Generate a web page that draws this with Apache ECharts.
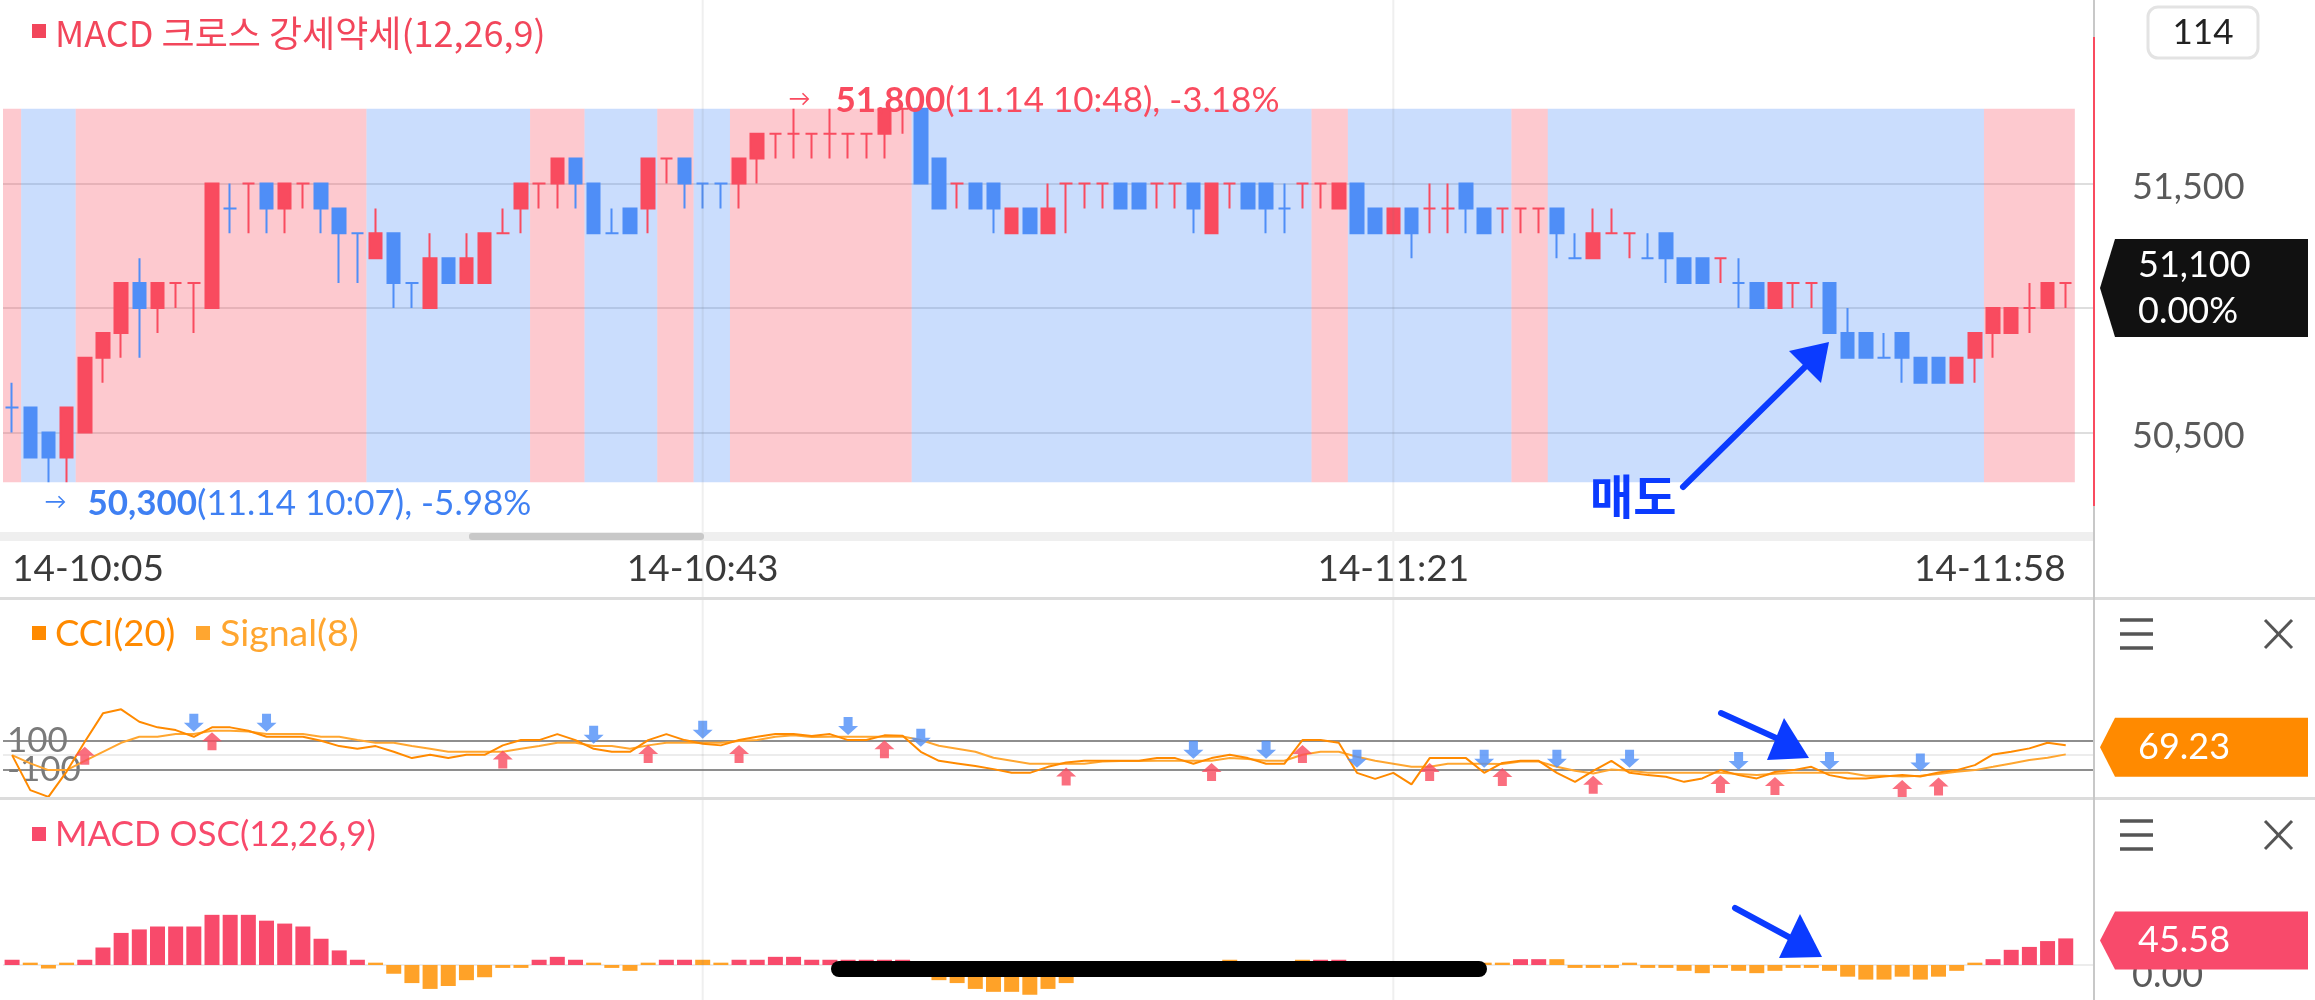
<!DOCTYPE html>
<html><head><meta charset="utf-8">
<script src="https://cdn.jsdelivr.net/npm/echarts@6/dist/echarts.min.js"></script>
<style>html,body{margin:0;padding:0;background:#fff;overflow:hidden}#c{width:2315px;height:1000px}</style>
</head><body><div id="c"></div>
<script>
// ---------------- DATA ----------------
const times = ['10:05','10:06','10:07','10:08','10:09','10:10','10:11','10:12','10:13','10:14','10:15','10:16','10:17','10:18','10:19','10:20','10:21','10:22','10:23','10:24','10:25','10:26','10:27','10:28','10:29','10:30','10:31','10:32','10:33','10:34','10:35','10:36','10:37','10:38','10:39','10:40','10:41','10:42','10:43','10:44','10:45','10:46','10:47','10:48','10:49','10:50','10:51','10:52','10:53','10:54','10:55','10:56','10:57','10:58','10:59','11:00','11:01','11:02','11:03','11:04','11:05','11:06','11:07','11:08','11:09','11:10','11:11','11:12','11:13','11:14','11:15','11:16','11:17','11:18','11:19','11:20','11:21','11:22','11:23','11:24','11:25','11:26','11:27','11:28','11:29','11:30','11:31','11:32','11:33','11:34','11:35','11:36','11:37','11:38','11:39','11:40','11:41','11:42','11:43','11:44','11:45','11:46','11:47','11:48','11:49','11:50','11:51','11:52','11:53','11:54','11:55','11:56','11:57','11:58'];
const opens = [50600,50600,50500,50400,50500,50800,50900,51100,51000,51100,
  51100,51000,51400,51500,51500,51400,51500,51500,51400,51300,
  51200,51300,51100,51000,51200,51100,51100,51300,51400,51500,
  51500,51600,51500,51300,51400,51400,51600,51600,51500,51500,
  51500,51600,51700,51700,51700,51700,51700,51700,51700,51800,
  51800,51600,51500,51500,51500,51300,51400,51300,51500,51500,
  51500,51500,51500,51500,51500,51500,51300,51500,51500,51500,
  51400,51500,51500,51400,51500,51400,51300,51400,51400,51400,
  51500,51400,51400,51400,51400,51400,51200,51200,51300,51300,
  51200,51300,51200,51200,51200,51100,51100,51000,51100,51100,
  51100,50900,50900,50800,50900,50800,50800,50700,50800,50900,
  50900,51000,51000,51100];
const closes = [50600,50400,50400,50600,50800,50900,51100,51000,51100,51100,
  51100,51500,51400,51500,51400,51500,51500,51400,51300,51300,
  51300,51100,51100,51200,51100,51200,51300,51300,51500,51500,
  51600,51500,51300,51300,51300,51600,51600,51500,51500,51500,
  51600,51700,51700,51700,51700,51700,51700,51700,51800,51800,
  51500,51400,51500,51400,51400,51400,51300,51400,51500,51500,
  51500,51400,51400,51500,51500,51400,51500,51500,51400,51400,
  51400,51500,51500,51500,51300,51300,51400,51300,51400,51400,
  51400,51300,51400,51400,51400,51300,51200,51300,51300,51300,
  51200,51200,51100,51100,51200,51100,51000,51100,51100,51100,
  50900,50800,50800,50800,50800,50700,50700,50800,50900,51000,
  51000,51000,51100,51100];
const lows = [50500,50400,50300,50300,50500,50700,50800,50800,50900,51000,
  50900,51000,51300,51300,51300,51300,51400,51300,51100,51100,
  51200,51000,51000,51000,51100,51100,51100,51300,51300,51400,
  51400,51400,51300,51300,51300,51300,51500,51400,51400,51400,
  51400,51500,51600,51600,51600,51600,51600,51600,51600,51700,
  51500,51400,51400,51400,51300,51300,51300,51300,51300,51400,
  51400,51400,51400,51400,51400,51300,51300,51400,51400,51300,
  51300,51400,51400,51400,51300,51300,51300,51200,51300,51300,
  51300,51300,51300,51300,51300,51200,51200,51200,51300,51200,
  51200,51100,51100,51100,51100,51000,51000,51000,51000,51000,
  50900,50800,50800,50800,50700,50700,50700,50700,50700,50800,
  50900,50900,51000,51000];
const highs = [50700,50600,50500,50600,50800,50900,51100,51200,51100,51100,
  51100,51500,51500,51500,51500,51500,51500,51500,51400,51300,
  51400,51300,51100,51300,51200,51300,51300,51400,51500,51500,
  51600,51600,51500,51400,51400,51600,51600,51600,51500,51500,
  51600,51700,51700,51800,51700,51800,51700,51700,51800,51800,
  51800,51600,51500,51500,51500,51400,51400,51500,51500,51500,
  51500,51500,51500,51500,51500,51500,51500,51500,51500,51500,
  51500,51500,51500,51500,51500,51400,51400,51400,51500,51500,
  51500,51400,51400,51400,51400,51400,51300,51400,51400,51300,
  51300,51300,51200,51200,51200,51200,51100,51100,51100,51100,
  51100,51000,50900,50900,50900,50800,50800,50800,50900,51000,
  51000,51100,51100,51100];
// MACD cross regime per candle: 1 = strong (pink), -1 = weak (blue)
const regime = [1,-1,-1,-1,1,1,1,1,1,1,
  1,1,1,1,1,1,1,1,1,1,
  -1,-1,-1,-1,-1,-1,-1,-1,-1,1,
  1,1,-1,-1,-1,-1,1,1,-1,-1,
  1,1,1,1,1,1,1,1,1,1,
  -1,-1,-1,-1,-1,-1,-1,-1,-1,-1,
  -1,-1,-1,-1,-1,-1,-1,-1,-1,-1,
  -1,-1,1,1,-1,-1,-1,-1,-1,-1,
  -1,-1,-1,1,1,-1,-1,-1,-1,-1,
  -1,-1,-1,-1,-1,-1,-1,-1,-1,-1,
  -1,-1,-1,-1,-1,-1,-1,-1,-1,1,
  1,1,1,1];
const macdOsc = [9,4,-6,4,9,30,55,61,66,66,
  66,86,86,86,76,71,66,45,25,9,
  4,-15,-31,-41,-36,-26,-21,-5,-5,9,
  14,9,4,-5,-10,4,9,9,9,4,
  9,9,14,14,9,9,9,9,9,9,
  -12,-26,-31,-41,-46,-46,-51,-41,-31,-18,
  -12,-8,-6,-4,-3,-3,2,9,3,-2,
  2,9,9,9,-4,-5,-3,-4,2,2,
  2,4,4,10,10,10,-5,-5,-5,4,
  -5,-5,-10,-14,-5,-10,-14,-10,-5,-5,
  -10,-20,-25,-25,-20,-25,-20,-10,4,10,
  26,31,41,45.58];
const cci = [0,-245,-292,-115,93,292,320,233,194,175,
  128,194,194,170,128,128,128,100,63,44,
  63,23,-21,2,-21,2,2,68,105,105,
  147,105,44,23,23,105,147,105,80,68,
  105,128,147,147,133,147,105,105,138,135,
  23,-40,-58,-77,-98,-124,-124,-82,-52,-40,
  -40,-40,-40,-21,-21,-61,-21,2,-21,-61,
  -61,105,105,86,-124,-166,-124,-205,-21,-21,
  -21,-124,-55,-40,-40,-124,-187,-110,-40,-124,
  -140,-152,-187,-163,-105,-140,-163,-118,-105,-82,
  -140,-163,-163,-150,-140,-150,-122,-105,-70,5,
  23,47,86,69.23];
const cciSignal = [0,-58,-105,-105,-40,23,86,128,128,147,
  147,170,170,165,147,147,147,128,128,105,
  86,86,63,44,23,23,23,23,44,63,
  86,86,63,63,44,68,86,86,86,86,
  98,105,128,138,126,128,128,128,128,130,
  105,65,44,23,-19,-40,-61,-61,-61,-61,
  -45,-42,-42,-40,-40,-40,-40,-21,-28,-40,
  -40,2,23,23,-12,-40,-61,-82,-82,-61,
  -61,-61,-63,-45,-45,-82,-110,-128,-100,-110,
  -124,-124,-124,-124,-124,-132,-140,-130,-124,-124,
  -124,-124,-145,-145,-150,-145,-132,-117,-105,-82,
  -58,-35,-19,5];
const buyIdx = [4,11,27,35,40,48,58,66,71,78,82,87,94,97,104,106];
const sellIdx = [10,14,32,38,46,50,65,69,74,81,85,89,95,100,105];
const priceTicks = [50500,51000,51500];
const xLabelTimes = ['10:05','10:43','11:21','11:58'];
const gridTimes = ['10:43','11:21'];
const dayNum = '14', dateText = '11.14';
const refClose = 53500;         // reference close for the % figures
const lastChangeText = '0.00%';

// ---------------- STYLE ----------------
const FONT = 'Lato, "Noto Sans CJK KR", sans-serif';
const KFONT = '"Noto Sans CJK KR", Lato, sans-serif';
const RED = '#F94B5F', BLUE = '#4F8EF7';
const PINKBAND = 'rgba(248,75,95,0.30)', BLUEBAND = 'rgba(79,142,247,0.30)';
const MRED = '#F84A6B', MORANGE = '#FFA228';
const CCICOL = '#FF8A00', SIGCOL = '#FFA630';
const T = 'rgba(0,0,0,0)';
const L = 3, R = 222;

let dir = -1;
const candleData = opens.map((o, i) => {
  const c = closes[i];
  if (c > o) dir = 1; else if (c < o) dir = -1;
  else if (i > 0 && c !== closes[i - 1]) dir = c > closes[i - 1] ? 1 : -1;
  const col = dir > 0 ? RED : BLUE;
  return { value: [o, c, lows[i], highs[i]], itemStyle: { color: col, color0: col, borderColor: col, borderColor0: col } };
});
const runs = [];
regime.forEach((r, i) => {
  if (runs.length && runs[runs.length - 1][2] === r) runs[runs.length - 1][1] = i;
  else runs.push([i, i, r]);
});
const hiMax = Math.max(...highs), iMax = highs.indexOf(hiMax);
const loMin = Math.min(...lows), iMin = lows.indexOf(loMin);
const cats = times.concat(['']);

const chart = echarts.init(document.getElementById('c'), null, { renderer: 'canvas', width: 2315, height: 1000 });
const xa = g => ({
  type: 'category', gridIndex: g, data: cats, boundaryGap: true,
  axisLine: { show: false }, axisTick: { show: false }, splitLine: { show: false },
  axisLabel: g === 0 ? {
    show: true, interval: (i, v) => xLabelTimes.includes(v), formatter: v => dayNum + '-' + v,
    color: '#3a3a3a', fontSize: 37, fontFamily: FONT, margin: 12, verticalAlign: 'middle',
    alignMinLabel: 'left', alignMaxLabel: 'right'
  } : { show: false }
});
const shifted = (txt, dy) => '{a|' + txt + '}';
const option = {
  animation: false, backgroundColor: '#fff',
  grid: [
    { left: L, right: R, top: 59, height: 498 },
    { left: L, right: R, top: 655, height: 143 },
    { left: L, right: R, top: 860, height: 140 }
  ],
  xAxis: [xa(0), xa(1), xa(2)],
  yAxis: [
    { gridIndex: 0, type: 'value', position: 'right', min: 50000, max: 52000, interval: 500,
      axisLine: { show: false }, axisTick: { show: false },
      axisLabel: { formatter: v => priceTicks.includes(v) ? '{a|' + v.toLocaleString('en-US') + '}' : '', margin: 39, align: 'left',
        rich: { a: { color: '#5a5a5a', fontSize: 36, fontFamily: FONT, lineHeight: 40, padding: [8, 0, 0, 0] } } },
      splitLine: { lineStyle: { color: [T, '#dedede', '#dedede', '#dedede', T], width: 2 } } },
    { gridIndex: 1, type: 'value', position: 'left', min: -300, max: 700, interval: 100,
      axisLine: { show: false }, axisTick: { show: false },
      axisLabel: { inside: true, formatter: v => (v === 100 || v === -100) ? String(v) : '', color: '#7a7a7a', fontSize: 35, fontFamily: FONT, margin: 4, align: 'left' },
      splitLine: { lineStyle: { color: [T, T, '#8e8e8e', '#ececec', '#8e8e8e', T, T, T, T, T, T], width: 2 } } },
    { gridIndex: 2, type: 'value', position: 'right', min: -60, max: 180, interval: 60,
      axisLine: { show: false }, axisTick: { show: false },
      axisLabel: { formatter: v => v === 0 ? '{a|0.00}' : '', margin: 39, align: 'left',
        rich: { a: { color: '#5a5a5a', fontSize: 36, fontFamily: FONT, lineHeight: 40, padding: [20, 0, 0, 0] } } },
      splitLine: { lineStyle: { color: [T, '#ececec', T, T, T], width: 2 } } }
  ],
  series: [
    { type: 'custom', xAxisIndex: 0, yAxisIndex: 0, z: 1, silent: true, encode: { x: 0, y: 2 },
      renderItem: (params, api) => {
        const s = api.value(0), e = api.value(1), r = api.value(2);
        const p0 = api.coord([s, hiMax]), p1 = api.coord([e, loMin]);
        const w = api.size([1, 0])[0];
        return { type: 'rect', shape: { x: p0[0] - w / 2, y: p0[1], width: p1[0] - p0[0] + w, height: p1[1] - p0[1] },
          style: { fill: r > 0 ? PINKBAND : BLUEBAND } };
      }, data: runs },
    { type: 'candlestick', xAxisIndex: 0, yAxisIndex: 0, z: 3, barWidth: 13, itemStyle: { borderWidth: 2 }, data: candleData },
    { type: 'bar', xAxisIndex: 2, yAxisIndex: 2, barWidth: 15,
      data: macdOsc.map((v, i) => ({ value: v, itemStyle: { color: regime[i] > 0 ? MRED : MORANGE } })) },
    { type: 'line', xAxisIndex: 1, yAxisIndex: 1, data: cciSignal, symbol: 'none', lineStyle: { color: SIGCOL, width: 2 } },
    { type: 'line', xAxisIndex: 1, yAxisIndex: 1, data: cci, symbol: 'none', lineStyle: { color: CCICOL, width: 2 } },
    { type: 'scatter', xAxisIndex: 1, yAxisIndex: 1, z: 5, data: buyIdx.map(i => [i, cci[i]]),
      symbol: 'path://M10,0 L20,9 L14.5,9 L14.5,18 L5.5,18 L5.5,9 L0,9 Z', symbolSize: [20, 18], symbolOffset: [0, 14], itemStyle: { color: RED } },
    { type: 'scatter', xAxisIndex: 1, yAxisIndex: 1, z: 5, data: sellIdx.map(i => [i, cci[i]]),
      symbol: 'path://M5.5,0 L14.5,0 L14.5,9 L20,9 L10,18 L0,9 L5.5,9 Z', symbolSize: [20, 18], symbolOffset: [0, -14], itemStyle: { color: BLUE } }
  ]
};
chart.setOption(option);

const P = (g, x, y) => chart.convertToPixel({ gridIndex: g }, [x, y]);
const G = [];
const rect = (x, y, w, h, fill, z, r) => G.push({ type: 'rect', z: z || 50, shape: { x, y, width: w, height: h, r: r || 0 }, style: { fill } });
const text = (x, y, t, o) => G.push({ type: 'text', z: (o && o.z) || 60, x, y, style: Object.assign({ text: t, fontSize: 35, fontFamily: FONT, fill: '#333', textAlign: 'left', textVerticalAlign: 'middle' }, o || {}) });

// vertical grid lines through all panels
gridTimes.forEach(t => {
  const x = P(0, times.indexOf(t), 51000)[0];
  rect(x - 1, 0, 2, 1000, 'rgba(120,120,120,0.12)', 40);
});
// separators
rect(0, 597, 2315, 3, '#dcdcdc', 45);
rect(0, 797, 2315, 3, '#dcdcdc', 45);
rect(2093, 0, 2, 1000, '#c8c8c8', 45);
rect(2093, 37, 2, 469, RED, 46);
// scroll bar
rect(0, 532, 2093, 9, '#efefef', 45);
rect(469, 533, 235, 7, '#c8c8c8', 46, 3);

// titles
rect(32, 24, 14, 14, '#F2465B');
text(55, 33, 'MACD 크로스 강세약세(12,26,9)', { fill: '#F2465B', fontSize: 36, fontFamily: KFONT });
rect(32, 626, 14, 14, CCICOL);
text(55, 634, 'CCI(20)', { fill: CCICOL, fontSize: 36.5 });
rect(196, 626, 14, 14, SIGCOL);
text(220, 634, 'Signal(8)', { fill: SIGCOL, fontSize: 37.5 });
rect(32, 827, 14, 14, MRED);
text(55, 835, 'MACD OSC(12,26,9)', { fill: MRED });

// count box
G.push({ type: 'rect', z: 50, shape: { x: 2148, y: 7, width: 110, height: 51, r: 10 }, style: { fill: '#fff', stroke: '#e3e3e3', lineWidth: 3 } });
text(2203, 33, String(times.length), { textAlign: 'center', fill: '#222' });

// menu icons
[634, 835].forEach(cy => {
  [-14, 0, 14].forEach(d => rect(2120, cy + d - 1.75, 33, 3.5, '#555'));
  G.push({ type: 'line', z: 50, shape: { x1: 2265, y1: cy - 14, x2: 2292, y2: cy + 14 }, style: { stroke: '#555', lineWidth: 3 } });
  G.push({ type: 'line', z: 50, shape: { x1: 2292, y1: cy - 14, x2: 2265, y2: cy + 14 }, style: { stroke: '#555', lineWidth: 3 } });
});

// value boxes
const vbox = (yc, h, fill) => G.push({ type: 'polygon', z: 70, shape: { points: [[2100, yc], [2115, yc - h / 2], [2308, yc - h / 2], [2308, yc + h / 2], [2115, yc + h / 2]] }, style: { fill } });
const lastClose = closes[closes.length - 1];
const ycP = P(0, 0, lastClose)[1] + 5;
vbox(ycP, 98, '#111');
text(2138, ycP - 23, lastClose.toLocaleString('en-US'), { fill: '#fff', z: 71, fontSize: 36 });
text(2138, ycP + 23, lastChangeText, { fill: '#fff', z: 71, fontSize: 36 });
const lastCci = cci[cci.length - 1];
const ycC = P(1, 0, lastCci)[1] + 2;
vbox(ycC, 59, CCICOL);
text(2138, ycC, lastCci.toFixed(2), { fill: '#fff', z: 71, fontSize: 36 });
const lastOsc = macdOsc[macdOsc.length - 1];
const ycM = P(2, 0, lastOsc)[1] + 2;
vbox(ycM, 58, MRED);
text(2138, ycM, lastOsc.toFixed(2), { fill: '#fff', z: 71, fontSize: 36 });

// max / min labels
const pct = v => ((v / refClose - 1) * 100).toFixed(2) + '%';
const pMax = P(0, iMax, hiMax), pMin = P(0, iMin, loMin);
text(pMax[0] - 5, pMax[1] - 10, '→', { fill: RED, fontSize: 22 });
text(pMax[0] + 42, pMax[1] - 8, '{b|' + hiMax.toLocaleString('en-US') + '}{n|(' + dateText + ' ' + times[iMax] + '), ' + pct(hiMax) + '}',
  { rich: { b: { fontSize: 35, fontWeight: 'bold', fill: RED, fontFamily: FONT }, n: { fontSize: 35, fill: RED, fontFamily: FONT } } });
const MINC = '#3F80F3';
text(pMin[0] - 4, pMin[1] + 20, '→', { fill: MINC, fontSize: 22 });
text(pMin[0] + 39, pMin[1] + 21, '{b|' + loMin.toLocaleString('en-US') + '}{n|(' + dateText + ' ' + times[iMin] + '), ' + pct(loMin) + '}',
  { rich: { b: { fontSize: 35, fontWeight: 'bold', fill: MINC, fontFamily: FONT }, n: { fontSize: 35, fill: MINC, fontFamily: FONT } } });

// hand-drawn annotations
const PEN = '#0B3BFF';
text(1590, 496, '매도', { fill: PEN, fontSize: 47, fontWeight: 'bold', fontFamily: KFONT, z: 80 });
const pen = (pts, head) => {
  G.push({ type: 'polyline', z: 80, shape: { points: pts }, style: { stroke: PEN, lineWidth: 6, lineCap: 'round', fill: null } });
  G.push({ type: 'polygon', z: 80, shape: { points: head }, style: { fill: PEN } });
};
pen([[1683, 487], [1810, 362]], [[1829, 342], [1789, 351], [1821, 383]]);
pen([[1721, 713], [1785, 742]], [[1809, 758], [1784, 718], [1767, 760]]);
pen([[1735, 908], [1798, 942]], [[1822, 957], [1800, 914], [1779, 958]]);
// home indicator
rect(831, 961, 656, 16, '#000', 90, 8);

chart.setOption({ graphic: { elements: G } });
</script></body></html>
